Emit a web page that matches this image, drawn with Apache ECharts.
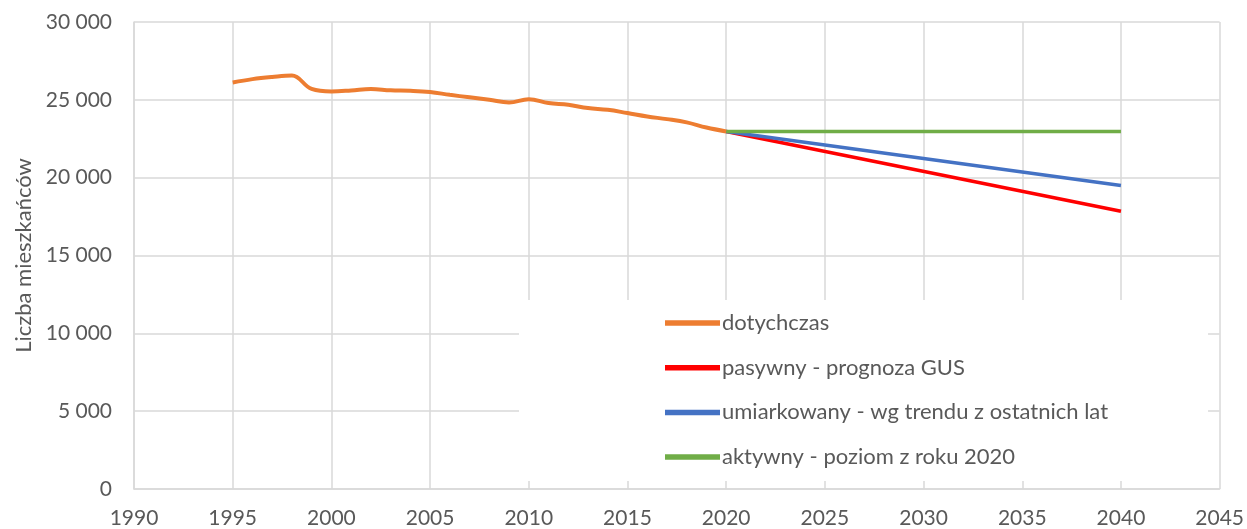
<html>
    <head>
        <meta charset="utf-8">
        <script src="https://cdn.jsdelivr.net/npm/echarts@6/dist/echarts.min.js"></script>
        <style>
            html, body { margin: 0; padding: 0; background: #fff; }
            #chart { width: 1247px; height: 529px; }
        </style>
    </head>
    <body>
        <div id="chart"></div>
        <script>

        // dane
        var yearsPast = [1995, 1996, 1997, 1998, 1999, 2000, 2001, 2002, 2003, 2004, 2005, 2006, 2007,
            2008, 2009, 2010, 2011, 2012, 2013, 2014, 2015, 2016, 2017, 2018, 2019, 2020];
        var valuesPast = [26110, 26330, 26470, 26560, 25700, 25540, 25600, 25690, 25610, 25580, 25500, 25320, 25160,
            25000, 24830, 25040, 24790, 24680, 24470, 24360, 24150, 23930, 23760, 23550, 23220, 22970];

        var yearsForecast = [2020, 2040];
        var valuesPassive = [22970, 17840];
        var valuesModerate = [22970, 19490];
        var valuesActive = [22970, 22970];

        var seriesNames = [
            'dotychczas',
            'pasywny - prognoza GUS',
            'umiarkowany - wg trendu z ostatnich lat',
            'aktywny - poziom z roku 2020'
        ];
        var seriesColors = ['#ED7D31', '#FF0000', '#4472C4', '#70AD47'];

        function pairs(xs, ys) {
            return xs.map(function (x, i) { return [x, ys[i]]; });
        }

        var font = 'Lato';
        var textColor = '#595959';

        var myChart = echarts.init(document.getElementById('chart'));

        var option = {
            animation: false,
            textStyle: { fontFamily: font },
            grid: {
                left: 134,
                right: 27,
                top: 22,
                bottom: 39
            },
            legend: {
                orient: 'vertical',
                left: 519,
                top: 300,
                backgroundColor: '#fff',
                padding: [12, 100, 13, 146],
                itemWidth: 55,
                itemHeight: 18,
                itemGap: 22.7,
                icon: 'path://M0,0H10V1H0Z',
                textStyle: { fontSize: 22, lineHeight: 18, color: textColor, fontFamily: font, padding: [0, 0, 0, -3] },
                data: seriesNames
            },
            xAxis: {
                type: 'value',
                min: 1990,
                max: 2045,
                interval: 5,
                axisLine: { show: true, lineStyle: { color: '#d9d9d9', width: 1.5 } },
                axisTick: { show: false },
                axisLabel: { color: textColor, fontSize: 21, margin: 19, formatter: function (v) { return String(v); } },
                splitLine: { show: true, lineStyle: { color: '#d9d9d9', width: 1.5 } }
            },
            yAxis: {
                type: 'value',
                min: 0,
                max: 30000,
                interval: 5000,
                name: 'Liczba mieszkańców',
                nameLocation: 'middle',
                nameGap: 97,
                nameTextStyle: { color: textColor, fontSize: 22 },
                axisLine: { show: true, lineStyle: { color: '#d9d9d9', width: 1.5 } },
                axisTick: { show: false },
                axisLabel: {
                    color: textColor,
                    fontSize: 21,
                    margin: 22,
                    formatter: function (v) {
                        return String(v).replace(/\B(?=(\d{3})+(?!\d))/g, ' ');
                    }
                },
                splitLine: { show: true, lineStyle: { color: '#d9d9d9', width: 1.5 } }
            },
            series: [{
                name: seriesNames[0],
                type: 'line',
                smooth: 0.4,
                showSymbol: false,
                lineStyle: { width: 4, color: seriesColors[0] },
                itemStyle: { color: seriesColors[0] },
                z: 5,
                data: pairs(yearsPast, valuesPast)
            }, {
                name: seriesNames[1],
                type: 'line',
                showSymbol: false,
                lineStyle: { width: 3.5, color: seriesColors[1] },
                itemStyle: { color: seriesColors[1] },
                data: pairs(yearsForecast, valuesPassive)
            }, {
                name: seriesNames[2],
                type: 'line',
                showSymbol: false,
                lineStyle: { width: 3.5, color: seriesColors[2] },
                itemStyle: { color: seriesColors[2] },
                data: pairs(yearsForecast, valuesModerate)
            }, {
                name: seriesNames[3],
                type: 'line',
                showSymbol: false,
                lineStyle: { width: 3.5, color: seriesColors[3] },
                itemStyle: { color: seriesColors[3] },
                data: pairs(yearsForecast, valuesActive)
            }]
        };

        myChart.setOption(option);

        </script>
    </body>
</html>
